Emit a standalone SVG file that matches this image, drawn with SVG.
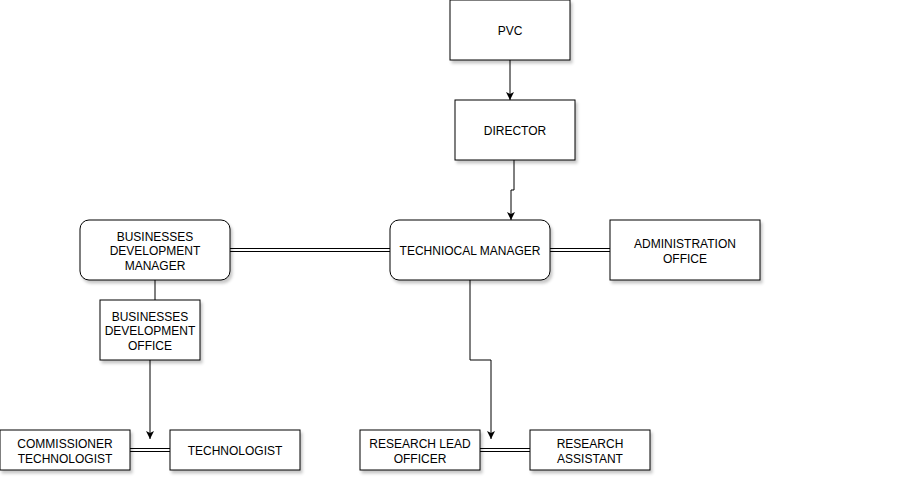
<svg xmlns="http://www.w3.org/2000/svg" width="920" height="490" viewBox="0 0 920 490">
<style>
.box{fill:#fff;stroke:#000;stroke-width:1;filter:url(#sh)}
.t{font-family:"Liberation Sans",Arial,sans-serif;font-size:12px;fill:#000;text-anchor:middle}
.ln{fill:none;stroke:#000;stroke-width:1}
.dbo{fill:none;stroke:#000;stroke-width:4}
.dbi{fill:none;stroke:#fff;stroke-width:2}
</style>
<defs>
<filter id="sh" x="-10%" y="-10%" width="130%" height="140%">
<feDropShadow dx="2" dy="3" stdDeviation="1.5" flood-color="#000" flood-opacity="0.22"/>
</filter>
<marker id="ar" markerWidth="10" markerHeight="10" refX="8" refY="4" orient="auto" markerUnits="userSpaceOnUse">
<path d="M0,0 L8,4 L0,8 L2,4 Z" fill="#000"/>
</marker>
</defs>
<rect width="920" height="490" fill="#fff"/>
<g id="connectors">
<path class="ln" d="M510,60 V100" marker-end="url(#ar)"/>
<path class="ln" d="M514,160 V190 H511 V220" marker-end="url(#ar)"/>
<path class="dbo" d="M230,250 H390"/><path class="dbi" d="M229,250 H391"/>
<path class="dbo" d="M550,250 H610"/><path class="dbi" d="M549,250 H611"/>
<path class="ln" d="M155,280 V300"/>
<path class="ln" d="M150,360 V439" marker-end="url(#ar)"/>
<path class="dbo" d="M130,450 H170"/><path class="dbi" d="M129,450 H171"/>
<path class="ln" d="M470,280 V360 H491 V439" marker-end="url(#ar)"/>
<path class="dbo" d="M480,450 H530"/><path class="dbi" d="M479,450 H531"/>
</g>
<g id="pvc"><rect class="box" x="450" y="0" width="120" height="60"/><text class="t" x="510" y="35">PVC</text></g>
<g id="director"><rect class="box" x="455" y="100" width="120" height="60"/><text class="t" x="515" y="135">DIRECTOR</text></g>
<g id="technical-manager"><rect class="box" x="390" y="220" width="160" height="60" rx="9"/><text class="t" x="470" y="255">TECHNIOCAL MANAGER</text></g>
<g id="administration-office"><rect class="box" x="610" y="220" width="150" height="60"/><text class="t" x="685" y="248">ADMINISTRATION</text><text class="t" x="685" y="263">OFFICE</text></g>
<g id="bd-manager"><rect class="box" x="80" y="220" width="150" height="60" rx="9"/><text class="t" x="155" y="241">BUSINESSES</text><text class="t" x="155" y="255">DEVELOPMENT</text><text class="t" x="155" y="270">MANAGER</text></g>
<g id="bd-office"><rect class="box" x="100" y="300" width="100" height="60"/><text class="t" x="150" y="321">BUSINESSES</text><text class="t" x="150" y="335">DEVELOPMENT</text><text class="t" x="150" y="350">OFFICE</text></g>
<g id="commissioner"><rect class="box" x="0" y="430" width="130" height="40"/><text class="t" x="65" y="448">COMMISSIONER</text><text class="t" x="65" y="463">TECHNOLOGIST</text></g>
<g id="technologist"><rect class="box" x="170" y="430" width="130" height="40"/><text class="t" x="235" y="455">TECHNOLOGIST</text></g>
<g id="research-lead"><rect class="box" x="360" y="430" width="120" height="40"/><text class="t" x="420" y="448">RESEARCH LEAD</text><text class="t" x="420" y="463">OFFICER</text></g>
<g id="research-assistant"><rect class="box" x="530" y="430" width="120" height="40"/><text class="t" x="590" y="448">RESEARCH</text><text class="t" x="590" y="463">ASSISTANT</text></g>
</svg>
